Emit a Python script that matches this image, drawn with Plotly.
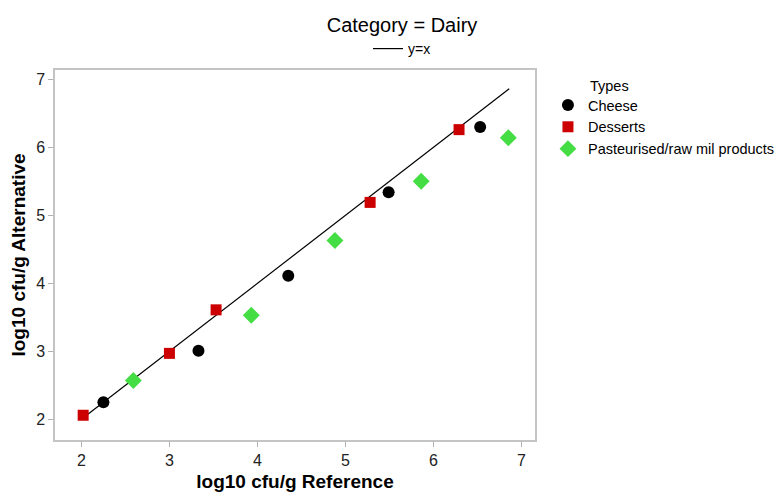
import plotly.graph_objects as go

# Reference vs alternative method counts, Dairy category
cheese_ref = [2.25, 3.33, 4.35, 5.49, 6.53]
cheese_alt = [2.25, 3.01, 4.11, 5.34, 6.30]

desserts_ref = [2.02, 3.00, 3.53, 5.28, 6.29]
desserts_alt = [2.06, 2.97, 3.61, 5.19, 6.26]

past_ref = [2.59, 3.93, 4.88, 5.86, 6.85]
past_alt = [2.57, 3.53, 4.63, 5.50, 6.14]

line_x = [2.0, 6.86]

font_family = "Liberation Sans, Arial, sans-serif"

fig = go.Figure()

fig.add_trace(go.Scatter(
    x=line_x, y=line_x, mode="lines", name="y=x",
    line=dict(color="black", width=1.2), legend="legend2",
))
fig.add_trace(go.Scatter(
    x=cheese_ref, y=cheese_alt, mode="markers", name="Cheese",
    marker=dict(symbol="circle", size=12, color="black"),
))
fig.add_trace(go.Scatter(
    x=desserts_ref, y=desserts_alt, mode="markers", name="Desserts",
    marker=dict(symbol="square", size=11, color="#cc0000"),
))
fig.add_trace(go.Scatter(
    x=past_ref, y=past_alt, mode="markers", name="Pasteurised/raw mil products",
    marker=dict(symbol="diamond", size=13, color="#44dd44"),
))

axis_common = dict(
    showgrid=False, zeroline=False, showline=True, linecolor="#c4c4c4",
    linewidth=1.5, mirror=True, ticks="outside", ticklen=5, tickcolor="#b0b0b0",
    tickwidth=1.2, tickfont=dict(size=16, color="#222", family=font_family),
    dtick=1, automargin=False,
)

fig.update_layout(
    width=784, height=492,
    margin=dict(l=55, r=249, t=70, b=52, autoexpand=False),
    paper_bgcolor="white", plot_bgcolor="white",
    font=dict(family=font_family, color="black"),
    title=dict(text="Category = Dairy", x=402 / 784, xanchor="center",
               y=1 - 25 / 492, yanchor="middle",
               font=dict(size=20, color="black")),
    xaxis=dict(axis_common, range=[1.70, 7.153],
               title=dict(text="<b>log10 cfu/g Reference</b>",
                          font=dict(size=19), standoff=10)),
    yaxis=dict(axis_common, range=[1.696, 7.137],
               title=dict(text="<b>log10 cfu/g Alternative</b>",
                          font=dict(size=19), standoff=5)),
    legend=dict(x=1.027, xanchor="left", y=(440 - 89) / 370, yanchor="top",
                font=dict(size=14.5), tracegroupgap=0, itemwidth=30,
                bgcolor="rgba(0,0,0,0)"),
    legend2=dict(orientation="h", x=(402 - 55) / 480, xanchor="center",
                 y=1 + 21 / 370, yanchor="middle", font=dict(size=14),
                 itemwidth=30, bgcolor="rgba(0,0,0,0)"),
    showlegend=True,
)

fig.add_annotation(text="Types", xref="paper", yref="paper",
                   x=(588 - 55) / 480, xanchor="left",
                   y=(440 - 86) / 370, yanchor="middle",
                   showarrow=False, font=dict(size=14.5, color="black"))

fig.write_html("out.html")
